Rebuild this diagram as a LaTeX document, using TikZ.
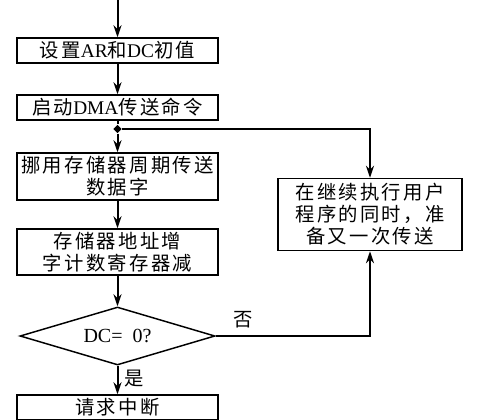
\documentclass[tikz,border=0pt]{standalone}
\usepackage{fontspec}
\setmainfont{Liberation Serif}
\newfontfamily\cjk[LetterSpace=12]{Noto Sans CJK SC}
\usetikzlibrary{arrows.meta,shapes.geometric}

\begin{document}
\begin{tikzpicture}[x=0.75pt,y=0.75pt,yscale=-1,xscale=1,
  box/.style={draw,line width=1.1pt,minimum width=150.75pt,inner xsep=0pt,inner ysep=0pt,align=center,font=\fontsize{14.5}{16.5}\selectfont},
  cjkbox/.style={box,font=\fontsize{14.5}{16.5}\selectfont\cjk},
  decision/.style={draw,diamond,aspect=3.36,line width=1.1pt,minimum width=146.25pt,minimum height=43.5pt,inner sep=0pt,font=\fontsize{15}{16.5}\selectfont},
  arr/.style={line width=1.5pt,-{Stealth[length=9pt,width=6pt]}},
  line/.style={line width=1.5pt},
  label/.style={font=\fontsize{14.5}{16.5}\selectfont\cjk}]
\useasboundingbox (0,0) rectangle (500,419);
\clip (0,0) rectangle (500,419);

%Shape: Rectangle
\coordinate (entry) at (117.5,0);
\node[box,minimum height=18.75pt] (init) at (117.5,50.5) {{\cjk 设置}AR{\cjk 和}DC{\cjk 初值}};
\node[box,minimum height=18.75pt] (dma) at (117.5,107.5) {{\cjk 启动}DMA{\cjk 传送命令}};
\node[fill,diamond,inner sep=0pt,minimum size=6.5pt] (split) at (117.5,129) {};
\node[cjkbox,minimum height=35.25pt] (steal) at (117.5,176.5) {挪用存储器周期传送\\数据字};
\node[cjkbox,minimum height=34.5pt] (count) at (117.5,252) {存储器地址增\\字计数寄存器减};
%Shape: Diamond
\node[decision] (test) at (117.5,336) {DC=\ \ 0?};
\node[cjkbox,minimum height=18.75pt] (irq) at (117.5,407.5) {请求中断};
\node[cjkbox,minimum width=138pt,minimum height=54pt] (user) at (370,214.5) {在继续执行用户\\程序的同时，准\\备又一次传送};

% Text Node
\node[label] (no) at (243,320) {否};
\node[label] (yes) at (134,379) {是};

%Straight Lines
\draw[arr] (entry) -- (init);
\draw[arr] (init) -- (dma);
\draw[line] (dma) -- (split);
\draw[arr] (split) -- (steal);
\draw[arr] (split) -| (user);
\draw[arr] (steal) -- (count);
\draw[arr] (count) -- (test);
\draw[arr] (test) -- (irq);
\draw[arr] (test) -| (user);

\end{tikzpicture}
\end{document}
